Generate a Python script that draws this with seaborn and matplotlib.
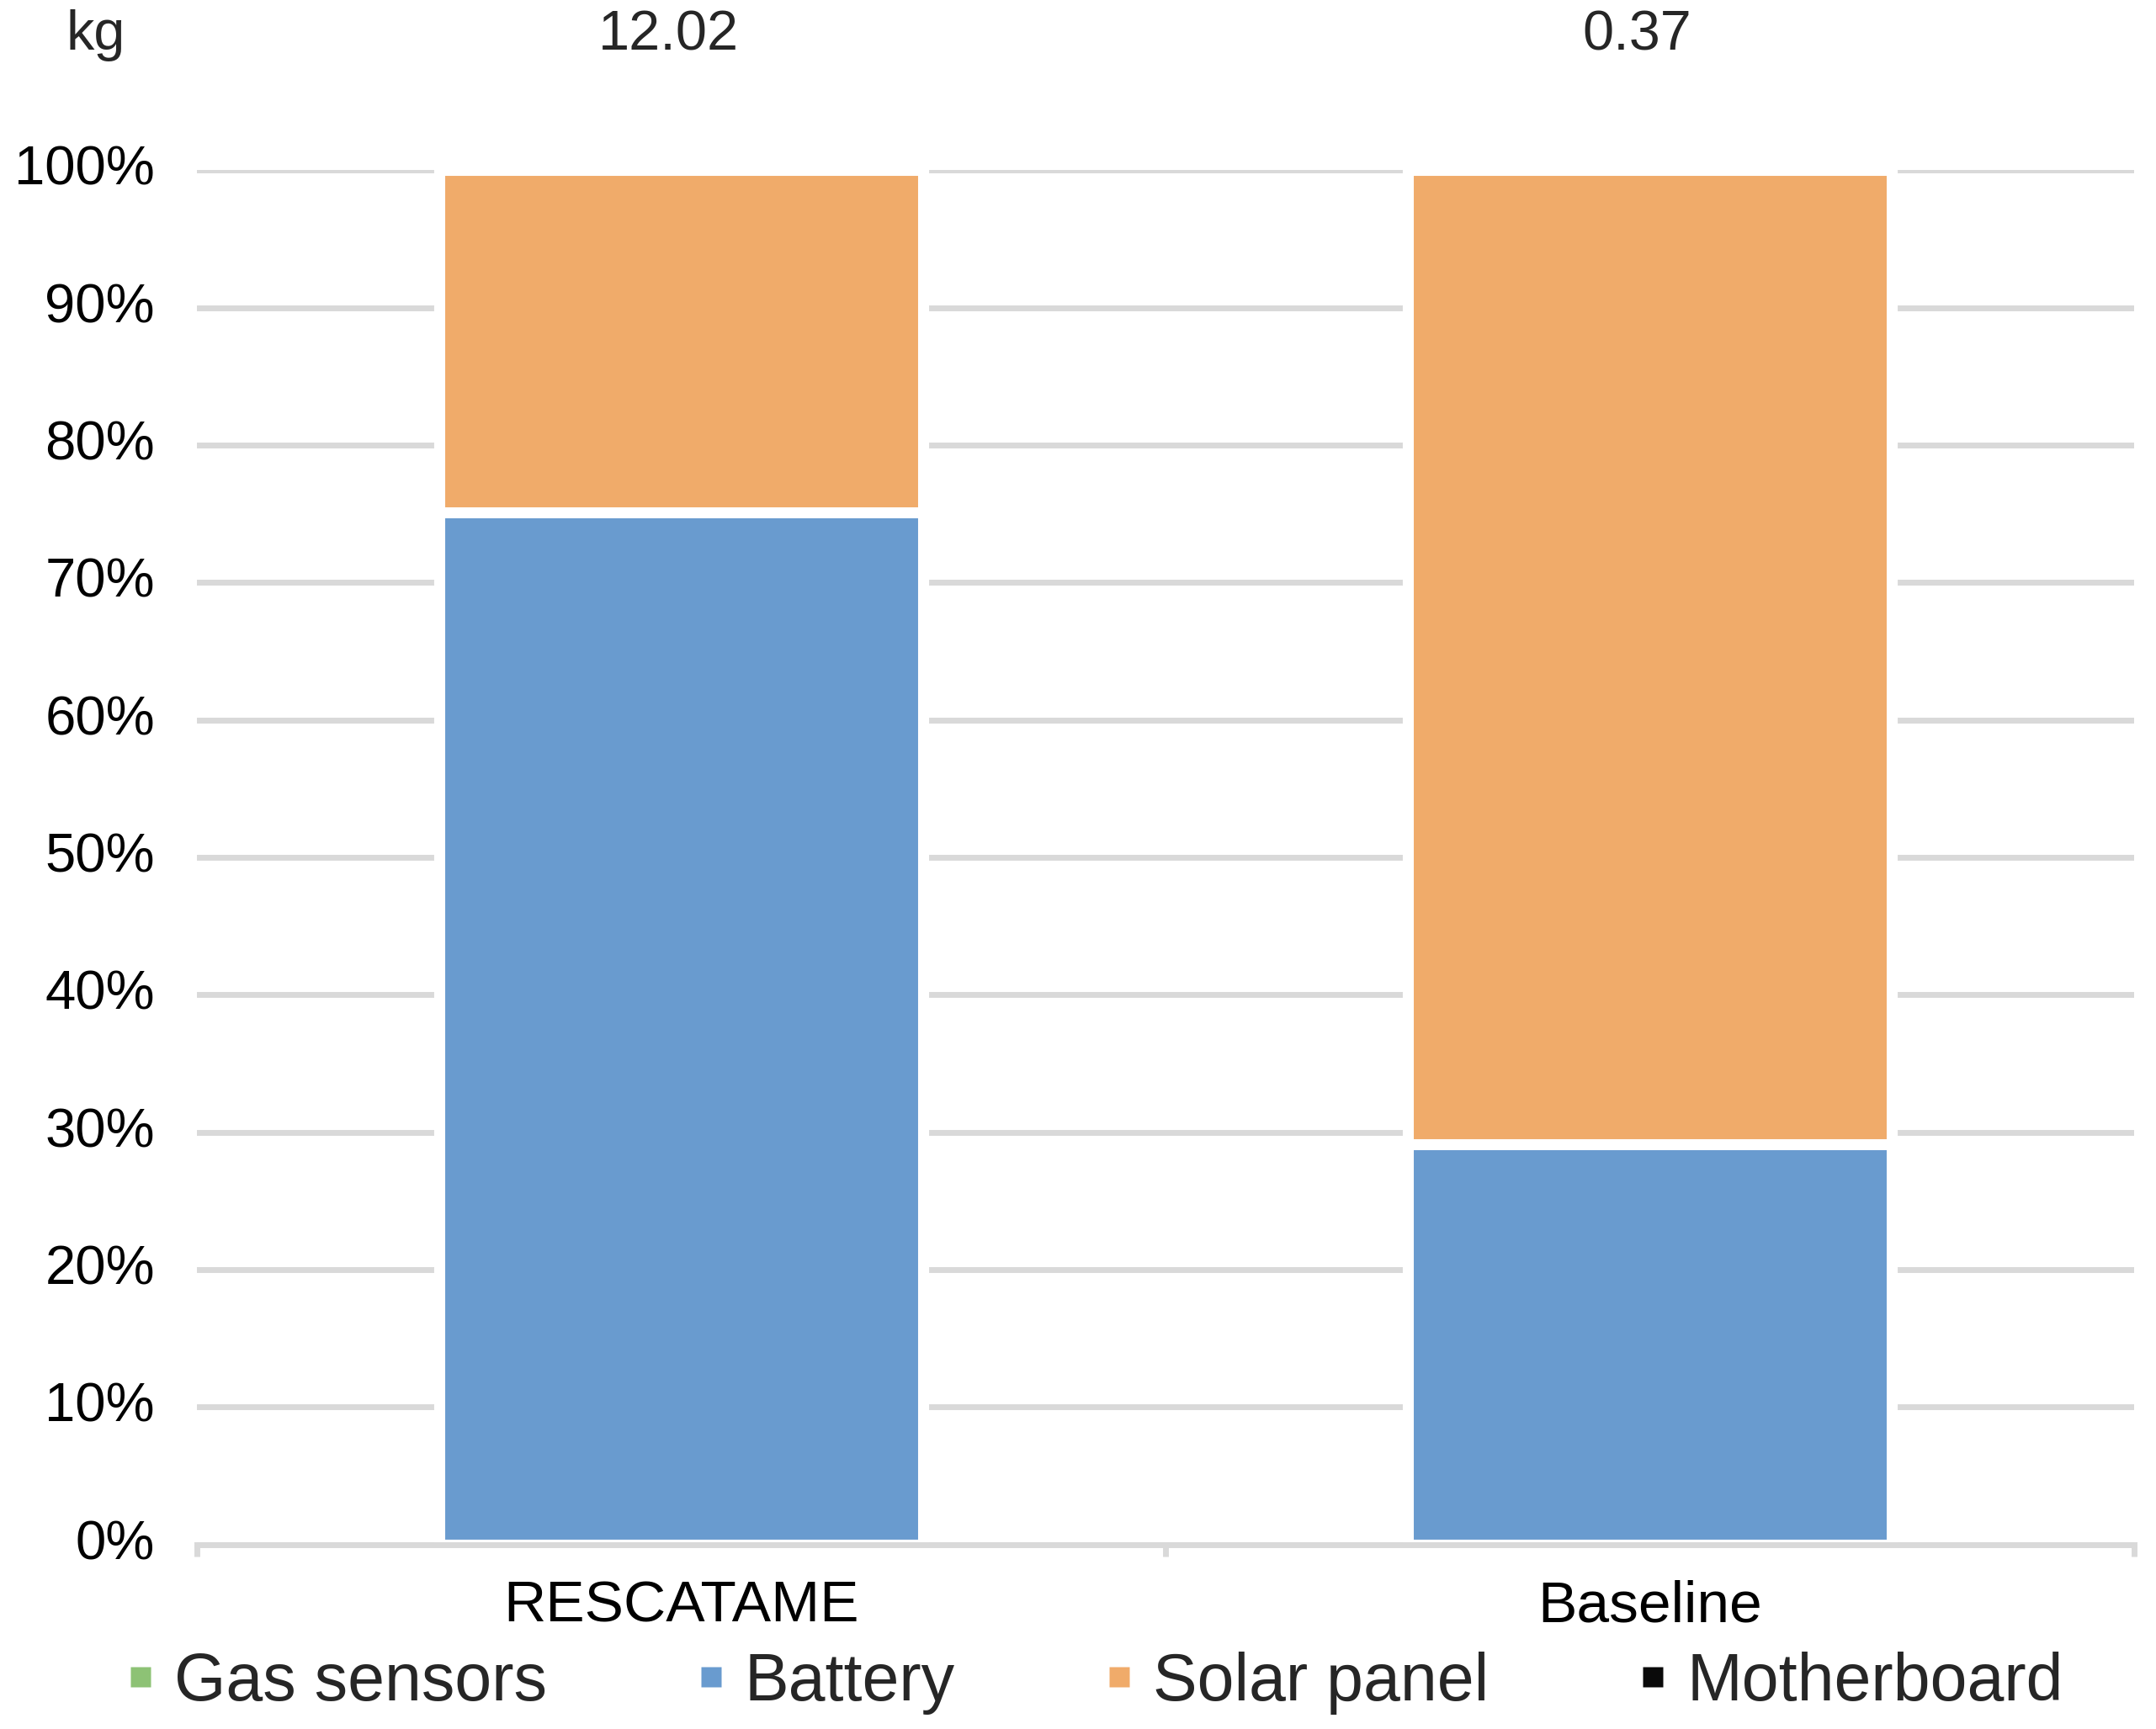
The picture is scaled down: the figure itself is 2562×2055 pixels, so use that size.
import seaborn as sns
import matplotlib.pyplot as plt
import matplotlib.transforms as mtransforms
import pandas as pd
import numpy as np
from matplotlib.lines import Line2D

# Data (percent of total mass per design)
designs = ["RESCATAME", "Baseline"]
components = ["Gas sensors", "Battery", "Solar panel", "Motherboard"]
gas_sensors = [0.0, 0.0]
battery = [75.1, 29.1]
solar_panel = [24.9, 70.9]
motherboard = [0.0, 0.0]
total_kg = [12.02, 0.37]

colors = {"Gas sensors": "#8DC275", "Battery": "#699BCF",
          "Solar panel": "#F0AB6A", "Motherboard": "#0A0A0A"}

df = pd.DataFrame({"Design": designs, "Gas sensors": gas_sensors, "Battery": battery,
                   "Solar panel": solar_panel, "Motherboard": motherboard})
cum = df[components].cumsum(axis=1)
cum["Design"] = df["Design"]

# Styling
sns.set_style("white")
plt.rcParams["font.family"] = ["Liberation Sans", "DejaVu Sans"]

fig = plt.figure(figsize=(25.62, 20.55), dpi=100)
ax = fig.add_axes([234 / 2562, 0.1068, 2302 / 2562, 0.7947])

# stacked bars: draw tallest cumulative first
for comp in components[::-1]:
    sns.barplot(data=cum, x="Design", y=comp, color=colors[comp], width=0.5,
                errorbar=None, edgecolor="white", linewidth=9.4, saturation=1,
                ax=ax)

ax.set_ylim(0, 100)
ax.set_xlim(-0.5, 1.5)
ax.set_yticks(np.arange(0, 101, 10))
ax.set_yticklabels([f"{v}%" for v in range(0, 101, 10)])
ax.set_xlabel("")
ax.set_ylabel("")

grid_c = "#D9D9D9"
ax.set_axisbelow(True)
ax.yaxis.grid(True, color=grid_c, linewidth=5)
for s in ["left", "right", "top"]:
    ax.spines[s].set_visible(False)
ax.spines["bottom"].set_color(grid_c)
ax.spines["bottom"].set_linewidth(5)

ax.tick_params(axis="y", length=0, pad=36, labelsize=47, labelcolor="black")
ax.tick_params(axis="x", which="major", length=0, pad=30, labelsize=50, labelcolor="black")
ax.set_xticks([-0.5, 0.5, 1.5], minor=True)
ax.tick_params(axis="x", which="minor", bottom=True, length=10, width=5, color=grid_c)

# nudge y labels up a little
shift = mtransforms.ScaledTranslation(0, 6 / 100, fig.dpi_scale_trans)
for lab in ax.get_yticklabels():
    lab.set_transform(lab.get_transform() + shift)

# totals on top
fig.text(114 / 2562, 1 - 42 / 2055, "kg", ha="center", va="center", fontsize=48)
for i, kg in enumerate(total_kg):
    ax.annotate(f"{kg:.2f}", xy=(i, 1 - 42 / 2055), xycoords=("data", "figure fraction"),
                xytext=(-11, 0), textcoords="offset points",
                ha="center", va="center", fontsize=48)

# legend
handles = [Line2D([], [], marker="s", linestyle="none", markersize=17,
                  markerfacecolor=colors[c], markeredgecolor="none") for c in components]
fig.legend(handles, components, loc="center left", ncol=4, frameon=False,
           bbox_to_anchor=(153 / 2562, 1 - 2000 / 2055), fontsize=56.8,
           handlelength=0.35, handletextpad=0.33, columnspacing=2.3,
           borderpad=0, borderaxespad=0)

plt.savefig("out.png", dpi=100)
plt.close()
